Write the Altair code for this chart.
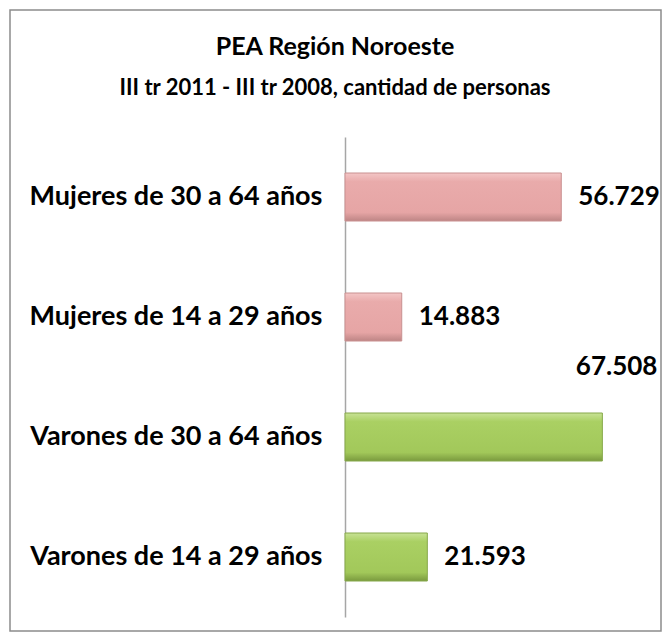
import altair as alt
import pandas as pd

categorias = ["Mujeres de 30 a 64 años", "Mujeres de 14 a 29 años",
              "Varones de 30 a 64 años", "Varones de 14 a 29 años"]
valores = [56729, 14883, 67508, 21593]
sexo = ["Mujeres", "Mujeres", "Varones", "Varones"]
etiquetas = ["56.729", "14.883", "67.508", "21.593"]
titulo = ["PEA Región Noroeste"]
subtitulo = ["III tr 2011 - III tr 2008, cantidad de personas"]

df = pd.DataFrame({"categoria": categorias, "valor": valores,
                   "sexo": sexo, "etiqueta": etiquetas})

FONT = "Lato"

x = alt.X("valor:Q", scale=alt.Scale(domain=[0, 80000]), axis=None)
y = alt.Y("categoria:N", sort=categorias,
          scale=alt.Scale(paddingInner=0.6, paddingOuter=0.3),
          axis=alt.Axis(title=None, domainColor="#A6A6A6", domainWidth=1.5,
                        ticks=False, grid=False, labelFont=FONT,
                        labelFontSize=27, labelFontWeight="bold",
                        labelColor="#000000", labelPadding=23,
                        labelLimit=400))

base = alt.Chart(df).encode(x=x, y=y)

pink = alt.Gradient(gradient="linear", x1=0, x2=0, y1=0, y2=1, stops=[
    alt.GradientStop(color="#F3C6C6", offset=0),
    alt.GradientStop(color="#E9ABAB", offset=0.18),
    alt.GradientStop(color="#E6A5A5", offset=0.82),
    alt.GradientStop(color="#BE8585", offset=1)])
green = alt.Gradient(gradient="linear", x1=0, x2=0, y1=0, y2=1, stops=[
    alt.GradientStop(color="#C8E295", offset=0),
    alt.GradientStop(color="#AAD063", offset=0.18),
    alt.GradientStop(color="#A2C85A", offset=0.82),
    alt.GradientStop(color="#7A9A3E", offset=1)])

bars_m = base.mark_bar(color=pink, stroke="#C99090", strokeWidth=1).transform_filter(
    alt.datum.sexo == "Mujeres")
bars_v = base.mark_bar(color=green, stroke="#86A84A", strokeWidth=1).transform_filter(
    alt.datum.sexo == "Varones")

text_normal = base.mark_text(align="left", baseline="middle", dx=17,
                             font=FONT, fontSize=26, fontWeight="bold",
                             color="#000000").encode(text="etiqueta:N").transform_joinaggregate(
    maximo="max(valor)").transform_filter("datum.valor < datum.maximo")

text_max = base.mark_text(align="right", baseline="middle", dx=55, dy=-70,
                          font=FONT, fontSize=26, fontWeight="bold",
                          color="#000000").encode(text="etiqueta:N").transform_joinaggregate(
    maximo="max(valor)").transform_filter("datum.valor == datum.maximo")

title_t = alt.Chart(pd.DataFrame({"t": titulo})).mark_text(
    align="center", baseline="middle", font=FONT, fontSize=25,
    fontWeight="bold", color="#000000").encode(
    text="t:N", x=alt.value(-10), y=alt.value(-90))
subtitle_t = alt.Chart(pd.DataFrame({"t": subtitulo})).mark_text(
    align="center", baseline="middle", font=FONT, fontSize=22,
    fontWeight="bold", color="#000000").encode(
    text="t:N", x=alt.value(-10), y=alt.value(-49))

frame = alt.Chart(pd.DataFrame({"k": [0]})).mark_rect(
    fill="transparent", stroke="#8C8C8C", strokeWidth=1.5).encode(
    x=alt.value(-335), x2=alt.value(316), y=alt.value(-127), y2=alt.value(494))

chart = alt.layer(frame, bars_m, bars_v, text_normal, text_max,
                  title_t, subtitle_t).properties(
    width=305, height=480,
    autosize=alt.AutoSizeParams(type="none"),
    padding={"left": 337, "top": 129, "right": 13, "bottom": 16},
    background="white",
).configure_view(strokeWidth=0)

chart.save("out.html", embed_options={"renderer": "svg", "actions": False})
